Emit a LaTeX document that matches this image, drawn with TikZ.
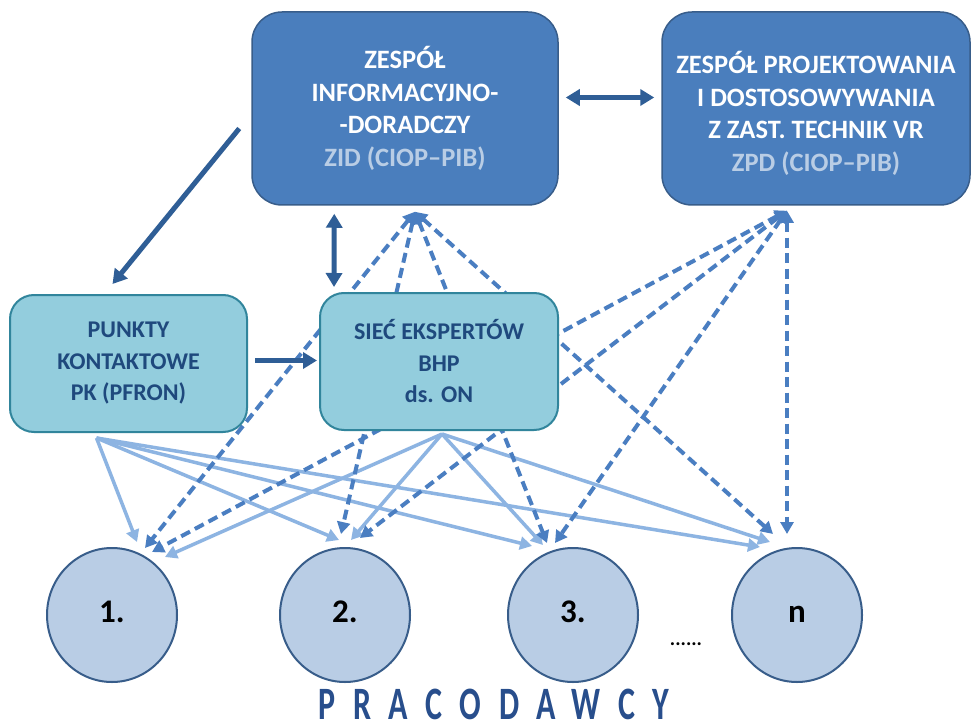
\documentclass[tikz,border=0pt]{standalone}
\usepackage{fontspec}
\setmainfont{Carlito}
\usetikzlibrary{arrows.meta,calc,shapes.geometric}

\definecolor{teamfill}{RGB}{74,126,189}
\definecolor{teamedge}{RGB}{56,93,138}
\definecolor{teamsub}{RGB}{185,205,229}
\definecolor{netfill}{RGB}{147,205,221}
\definecolor{netedge}{RGB}{49,133,156}
\definecolor{nettext}{RGB}{31,73,125}
\definecolor{empfill}{RGB}{185,205,229}
\definecolor{empedge}{RGB}{56,93,138}
\definecolor{mainarrow}{RGB}{47,94,150}
\definecolor{dasharrow}{RGB}{74,126,193}
\definecolor{lightarrow}{RGB}{141,180,226}
\definecolor{titleblue}{RGB}{40,78,140}

\pgfdeclarelayer{paper}
\pgfdeclarelayer{links}
\pgfsetlayers{paper,links,main}

\begin{document}
\begin{tikzpicture}[x=1pt,y=-1pt,
  teambox/.style={draw=teamedge, line width=1.5pt, fill=teamfill, rounded corners=30pt,
    minimum width=306pt, minimum height=193pt, align=center, text=white, inner sep=0pt,
    font=\fontsize{26.5}{32.5}\selectfont\bfseries},
  netbox/.style={draw=netedge, line width=2pt, fill=netfill, rounded corners=24pt,
    minimum width=237pt, minimum height=137pt, align=center, text=nettext, inner sep=0pt,
    font=\fontsize{24}{31.5}\selectfont\bfseries},
  employer/.style={ellipse, draw=empedge, line width=2pt, fill=empfill,
    minimum width=130pt, minimum height=134pt, inner sep=0pt,
    text height=14pt, text depth=0pt,
    font=\fontsize{33}{33}\selectfont\bfseries},
  mainlink/.style={draw=mainarrow, line width=5pt, -{Triangle[width=16pt,length=14pt]}},
  mainboth/.style={mainlink, {Triangle[width=16pt,length=14pt]}-{Triangle[width=16pt,length=14pt]}},
  teamlink/.style={draw=dasharrow, line width=4pt, dash pattern=on 10pt off 5.5pt,
    {Triangle[width=13pt,length=12pt]}-{Triangle[width=13pt,length=12pt]}},
  netlink/.style={draw=lightarrow, line width=3.5pt, -{Triangle[width=13pt,length=12pt]}}
]
\begin{pgfonlayer}{paper}
  \fill[white] (0,0) rectangle (974,722);
\end{pgfonlayer}
\useasboundingbox (0,0) rectangle (974,722);

% teams
\node[teambox] (zid) at (405,108.5)
  {ZESPÓŁ\\INFORMACYJNO-\\-DORADCZY\\\textcolor{teamsub}{ZID (CIOP–PIB)}};
\node[teambox, minimum width=308pt] (zpd) at (816,108.5)
  {\rule{0pt}{6pt}\\[-6pt]ZESPÓŁ PROJEKTOWANIA\\I DOSTOSOWYWANIA\\Z ZAST. TECHNIK VR\\\textcolor{teamsub}{ZPD (CIOP–PIB)}};

% contact points and expert network
\node[netbox] (pk) at (128.5,363.5) {PUNKTY\\KONTAKTOWE\\PK (PFRON)};
\node[netbox, minimum width=238pt] (siec) at (439,361.5) {SIEĆ EKSPERTÓW\\BHP\\ds. ON};

% employers
\node[employer] (c1) at (112,615) {1.};
\node[employer] (c2) at (345,615) {2.};
\node[employer] (c3) at (573,615) {3.};
\node[employer] (cn) at (797,615) {n};
\node[font=\fontsize{20}{20}\selectfont\bfseries] (dots) at (686,644) {......};
% tall, widely tracked caption
\node[inner sep=0pt, text=titleblue] (title) at (494,704)
  {\scalebox{1}[1.45]{\fontsize{32}{32}\selectfont\bfseries\addfontfeatures{LetterSpace=55}PRACODAWCY}};

% fan-out points
\coordinate (zidhub) at ($(zid.south)+(10,6)$);
\coordinate (zpdhub) at ($(zpd.south)+(-29,5)$);
\coordinate (pkhub) at ($(pk.south)+(-32,5)$);
\coordinate (siechub) at ($(siec.south)+(3,3)$);

\begin{pgfonlayer}{links}
  % contact points and experts to employers
  \draw[netlink] (pkhub) -- ($(c1)+(25,-73)$);
  \draw[netlink] (pkhub) -- ($(c2)+(-6,-75)$);
  \draw[netlink] (pkhub) -- ($(c3)+(-41,-69)$);
  \draw[netlink] (pkhub) -- ($(cn)+(-37,-68)$);
  \draw[netlink] (siechub) -- ($(c1)+(53,-58)$);
  \draw[netlink] (siechub) -- ($(c2)+(6,-75)$);
  \draw[netlink] (siechub) -- ($(c3)+(-30,-70)$);
  \draw[netlink] (siechub) -- ($(cn)+(-27,-73)$);

  % teams to employers
  \draw[teamlink] (zidhub) -- ($(c1)+(33,-67)$);
  \draw[teamlink] (zidhub) -- ($(c2)+(-4,-81)$);
  \draw[teamlink] (zidhub) -- ($(c3)+(-26,-72)$);
  \draw[teamlink] (zidhub) -- ($(cn)+(-24,-81)$);
  \draw[teamlink] (zpdhub) -- ($(c1)+(40,-63)$);
  \draw[teamlink] (zpdhub) -- ($(c2)+(15,-77)$);
  \draw[teamlink] (zpdhub) -- ($(c3)+(-18,-72)$);
  \draw[teamlink] (zpdhub) -- ($(cn)+(-10,-81)$);

  % main links
  \draw[mainlink] ($(zid.west)+(-12,20)$) -- ($(pk.north)+(-16,-10)$);
  \draw[mainboth] ($(zid.south west)+(83,8)$) -- ($(siec.north west)+(15,-5)$);
  \draw[mainlink] ($(pk.east)+(7,-3)$) -- ($(siec.west)+(-2,-1)$);
  \draw[mainboth] ($(zid.east)+(7,-11)$) -- ($(zpd.west)+(-7,-11)$);
\end{pgfonlayer}
\end{tikzpicture}
\end{document}
